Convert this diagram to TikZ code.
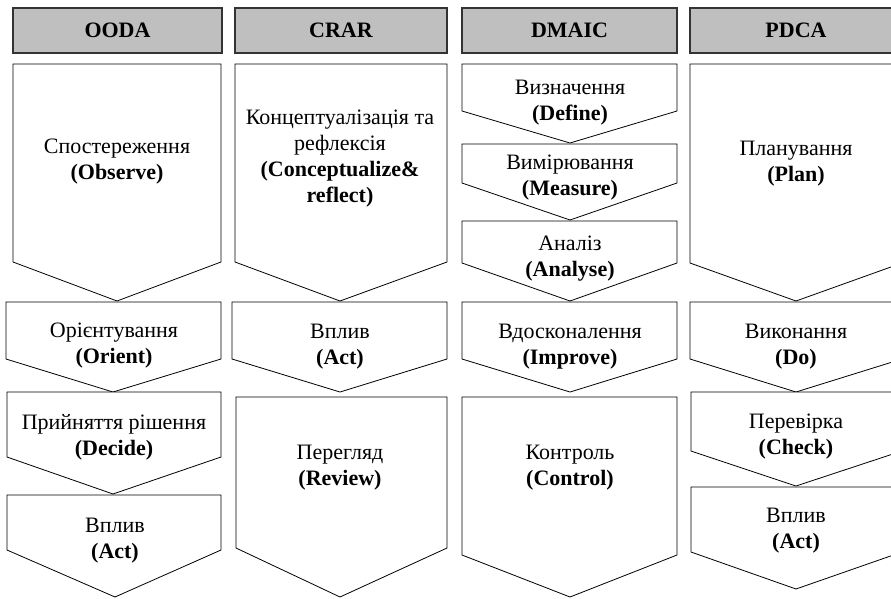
\documentclass[tikz,border=0pt]{standalone}
\usepackage{fontspec}
\setmainfont{Liberation Serif}

\begin{document}
\begin{tikzpicture}[x=1pt,y=-1pt,
    chev/.style={draw=black, line width=0.8pt, fill=white, line join=miter},
    headbox/.style={draw=black!80, line width=1.2pt, fill=black!25,
      inner sep=0pt, minimum height=45pt, font=\fontsize{22}{26}\selectfont\bfseries},
    txt/.style={align=center, inner sep=0pt, yshift=-3pt, font=\fontsize{22}{26}\selectfont}]
    \useasboundingbox (0,0) rectangle (891,598);
    \clip (0,0) rectangle (891,598);

    % Column headers
    \node[headbox, minimum width=209pt] (ooda) at (117.5,30.5) {OODA};
    \node[headbox, minimum width=212pt] (crar) at (341,30.5) {CRAR};
    \node[headbox, minimum width=215pt] (dmaic) at (569.5,30.5) {DMAIC};
    \node[headbox, minimum width=212pt] (pdca) at (796,30.5) {PDCA};

    % OODA column
    \draw[chev] (13,64) -- (221,64) -- (221,262) -- (117,301) -- (13,262) -- cycle;
    \node[txt] (observe) at (117,159) {Спостереження\\\textbf{(Observe)}};
    \draw[chev] (6,302) -- (221,302) -- (221,359) -- (113,392) -- (6,359) -- cycle;
    \node[txt] (orient) at (114,342.5) {Орієнтування\\\textbf{(Orient)}};
    \draw[chev] (7,392) -- (221,392) -- (221,457) -- (113,494) -- (7,457) -- cycle;
    \node[txt] (decide) at (114,434) {Прийняття рішення\\\textbf{(Decide)}};
    \draw[chev] (7,495) -- (221,495) -- (221,550) -- (115,597) -- (7,550) -- cycle;
    \node[txt] (ooda-act) at (115,538) {Вплив\\\textbf{(Act)}};

    % CRAR column
    \draw[chev] (235,64) -- (447,64) -- (447,262) -- (340,301) -- (235,262) -- cycle;
    \node[txt] (reflect) at (340,155.5)
      {Концептуалізація та\\рефлексія\\\textbf{(Conceptualize\&}\\\textbf{reflect)}};
    \draw[chev] (232,302) -- (447,302) -- (447,359) -- (340,392) -- (232,359) -- cycle;
    \node[txt] (crar-act) at (340,344) {Вплив\\\textbf{(Act)}};
    \draw[chev] (236,397) -- (447,397) -- (447,548) -- (340,597) -- (236,548) -- cycle;
    \node[txt] (review) at (340,464.5) {Перегляд\\\textbf{(Review)}};

    % DMAIC column
    \draw[chev] (462,64) -- (677,64) -- (677,111) -- (570,143) -- (462,111) -- cycle;
    \node[txt] (define) at (570,100) {Визначення\\\textbf{(Define)}};
    \draw[chev] (462,144) -- (677,144) -- (677,183) -- (570,220) -- (462,183) -- cycle;
    \node[txt] (measure) at (570,175) {Вимірювання\\\textbf{(Measure)}};
    \draw[chev] (462,221) -- (677,221) -- (677,263) -- (570,301) -- (462,263) -- cycle;
    \node[txt] (analyse) at (570,256) {Аналіз\\\textbf{(Analyse)}};
    \draw[chev] (462,302) -- (677,302) -- (677,359) -- (570,392) -- (462,359) -- cycle;
    \node[txt] (improve) at (570,344) {Вдосконалення\\\textbf{(Improve)}};
    \draw[chev] (462,397) -- (677,397) -- (677,555) -- (570,597) -- (462,555) -- cycle;
    \node[txt] (control) at (570,465) {Контроль\\\textbf{(Control)}};

    % PDCA column
    \draw[chev] (690,64) -- (902,64) -- (902,263) -- (796,301) -- (690,263) -- cycle;
    \node[txt] (plan) at (796,160.5) {Планування\\\textbf{(Plan)}};
    \draw[chev] (690,302) -- (902,302) -- (902,359) -- (796,392) -- (690,359) -- cycle;
    \node[txt] (do) at (796,344) {Виконання\\\textbf{(Do)}};
    \draw[chev] (691,392) -- (902,392) -- (902,451) -- (796,486) -- (691,451) -- cycle;
    \node[txt] (check) at (796,433.5) {Перевірка\\\textbf{(Check)}};
    \draw[chev] (691,487) -- (902,487) -- (902,552) -- (796,589) -- (691,552) -- cycle;
    \node[txt] (pdca-act) at (796,527.5) {Вплив\\\textbf{(Act)}};
\end{tikzpicture}
\end{document}
